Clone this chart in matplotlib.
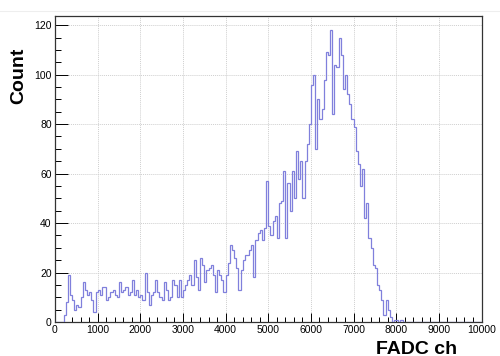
import numpy as np
import matplotlib
matplotlib.use("Agg")
import matplotlib.pyplot as plt
from matplotlib.ticker import MultipleLocator

# FADC spectrum: 200 bins of 50 channels from 0 to 10000
bin_lo = 0
bin_hi = 10000
n_bins = 200
counts = [
    0, 0, 0, 0, 3, 8, 19, 11, 9, 5,
    7, 6, 10, 16, 13, 11, 12, 9, 4, 12,
    13, 11, 14, 14, 9, 10, 12, 13, 11, 10,
    16, 12, 13, 14, 11, 12, 17, 11, 13, 10,
    11, 9, 20, 12, 7, 11, 12, 17, 12, 10,
    9, 16, 13, 9, 10, 17, 15, 10, 17, 10,
    13, 15, 17, 19, 15, 25, 18, 13, 26, 23,
    16, 21, 22, 23, 19, 12, 21, 19, 17, 12,
    19, 24, 31, 29, 26, 22, 13, 21, 25, 27,
    27, 29, 31, 18, 33, 36, 37, 33, 38, 57,
    39, 35, 41, 43, 34, 48, 49, 61, 34, 56,
    45, 61, 50, 69, 58, 65, 50, 65, 72, 80,
    96, 100, 70, 90, 82, 86, 98, 109, 108, 118,
    84, 104, 103, 115, 108, 94, 100, 92, 88, 82,
    79, 69, 64, 55, 62, 42, 48, 34, 30, 23,
    22, 15, 13, 9, 3, 9, 5, 2, 0, 1,
] + [1, 0, 1] + [0] * 37

x_title = "FADC ch"
y_title = "Count"

plt.rcParams["font.family"] = ["Liberation Sans", "DejaVu Sans"]

W, H = 500, 356
fig = plt.figure(figsize=(W / 100, H / 100), dpi=100)
fig.patch.set_facecolor("white")

left, right, top, bottom = 55, 481.5, 15.5, 322
ax = fig.add_axes([left / W, 1 - bottom / H, (right - left) / W, (bottom - top) / H])

edges = np.linspace(bin_lo, bin_hi, n_bins + 1)
vals = np.asarray(counts, dtype=float)
ax.stairs(vals, edges, baseline=0, color="#8080dc", lw=0.9, zorder=3)

ax.set_xlim(bin_lo, bin_hi)
ax.set_ylim(0, vals.max() * 1.05)

ax.xaxis.set_major_locator(MultipleLocator(1000))
ax.xaxis.set_minor_locator(MultipleLocator(200))
ax.yaxis.set_major_locator(MultipleLocator(20))
ax.yaxis.set_minor_locator(MultipleLocator(5))

ax.tick_params(axis="x", which="major", direction="in", length=6.8, width=0.7,
               labelsize=7.5, pad=2.2, top=False)
ax.tick_params(axis="x", which="minor", direction="in", length=3.4, width=0.7, top=False)
ax.tick_params(axis="y", which="major", direction="in", length=9, width=0.7,
               labelsize=7.5, pad=2.4, right=False)
ax.tick_params(axis="y", which="minor", direction="in", length=4.5, width=0.7, right=False)

ax.grid(True, which="major", color="#cfcfcf", linestyle=(0, (1, 1)), lw=0.7, zorder=0)
for s in ax.spines.values():
    s.set_linewidth(0.9)
    s.set_color("#333333")

fig.text(457 / W, 1 - 349 / H, x_title, ha="right", va="center",
         fontsize=14, fontweight="bold")
fig.text(19 / W, 1 - 76 / H, y_title, ha="center", va="center", rotation=90,
         fontsize=14, fontweight="bold")

# faint canvas border line near the top
fig.add_artist(plt.Line2D([0, 1], [1 - 10.5 / H, 1 - 10.5 / H],
                          transform=fig.transFigure, color="#eeeeee", lw=0.8))

fig.savefig("out.png", dpi=100)
